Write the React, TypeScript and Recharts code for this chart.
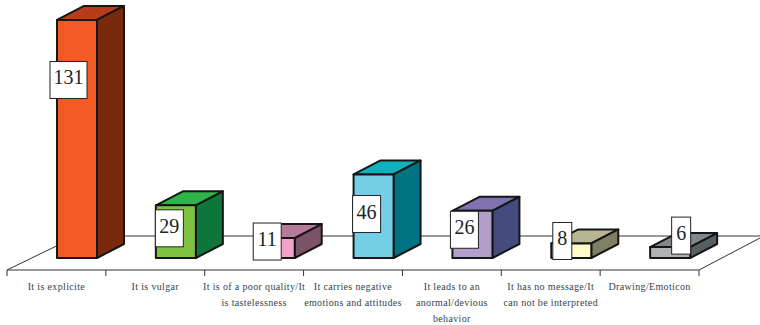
import { BarChart, Bar, XAxis, YAxis, LabelList, Customized } from 'recharts';

const categories = [
  'It is explicite',
  'It is vulgar',
  'It is of a poor quality/It\nis tastelessness',
  'It carries negative\nemotions and attitudes',
  'It leads to an\nanormal/devious\nbehavior',
  'It has no message/It\ncan not be interpreted',
  'Drawing/Emoticon',
];
const counts = [131, 29, 11, 46, 26, 8, 6];

const frontColors = ['#f15a22', '#7fc241', '#f3a3c9', '#74cfe6', '#b09fcb', '#fffbcc', '#b0b2b3'];
const topColors = ['#b83c1c', '#2fb34a', '#b67a9b', '#0fb0c0', '#8072b0', '#b8b692', '#80878b'];
const sideColors = ['#7a2a0c', '#0c763b', '#7c5268', '#007383', '#454a7f', '#7f7f63', '#565f62'];

// where each value box sits relative to its bar (centre x, top y)
const labelNudgeX = [-8.5, -6.5, -7.5, -7, -8, -9, 11];
const labelNudgeY = [60, 23, 3.5, 39.6, 19, -2.5, -11.5];

const data = categories.map((name, i) => ({ name, count: counts[i] }));

const WIDTH = 760;
const HEIGHT = 325;
const AXIS_LEFT = 7;
const AXIS_RIGHT = 699;
const AXIS_Y = 270;
const BAND = (AXIS_RIGHT - AXIS_LEFT) / categories.length;

// fake perspective: how far the back face is pushed from the front face
const DEPTH_X = 27;
const DEPTH_Y = 14;
const FLOOR_SHIFT = 21;
const EDGE = '#161616';

function CuboidBar(props: any) {
  const { x, y, width, height, index } = props;
  const l = x + FLOOR_SHIFT;
  const r = l + width;
  const b = y + height;
  const edge = { stroke: EDGE, strokeWidth: 2, strokeLinejoin: 'round' as const };
  return (
    <g>
      <polygon
        points={`${l},${y} ${r},${y} ${r + DEPTH_X},${y - DEPTH_Y} ${l + DEPTH_X},${y - DEPTH_Y}`}
        fill={topColors[index]}
        {...edge}
      />
      <polygon
        points={`${r},${y} ${r + DEPTH_X},${y - DEPTH_Y} ${r + DEPTH_X},${b - DEPTH_Y} ${r},${b}`}
        fill={sideColors[index]}
        {...edge}
      />
      <rect x={l} y={y} width={width} height={height} fill={frontColors[index]} {...edge} />
    </g>
  );
}

function ValueBox(props: any) {
  const { x, y, width, value, index } = props;
  const text = String(value);
  const w = 10 + text.length * 9;
  const h = 37;
  const cx = x + FLOOR_SHIFT + width / 2 + labelNudgeX[index];
  const cy = y + labelNudgeY[index];
  return (
    <g>
      <rect x={cx - w / 2} y={cy - h / 2} width={w} height={h} fill="#fff" stroke="#222" strokeWidth={1} />
      <text
        x={cx}
        y={cy + 4.5}
        textAnchor="middle"
        fontFamily="Liberation Serif"
        fontSize={20}
        fill="#1c2428"
      >
        {text}
      </text>
    </g>
  );
}

function CategoryTick(props: any) {
  const { x, y, payload, index } = props;
  const lines = String(payload.value).split('\n');
  return (
    <g>
      <line x1={x - BAND / 2} x2={x - BAND / 2} y1={AXIS_Y} y2={AXIS_Y + 6} stroke="#333" />
      {index === categories.length - 1 && (
        <line x1={x + BAND / 2} x2={x + BAND / 2} y1={AXIS_Y} y2={AXIS_Y + 6} stroke="#333" />
      )}
      <text
        x={x}
        y={y + 2}
        textAnchor="middle"
        fontFamily="Liberation Serif"
        fontSize={10}
        letterSpacing={0.35}
        fill="#33444c"
      >
        {lines.map((line, i) => (
          <tspan key={i} x={x} dy={i === 0 ? 10 : 16}>
            {line}
          </tspan>
        ))}
      </text>
    </g>
  );
}

// floor outline behind the bars
function Floor() {
  return (
    <g stroke="#333" strokeWidth={1} fill="none">
      <polyline points={`${AXIS_LEFT},${AXIS_Y} 77,236 ${WIDTH},236`} />
      <line x1={AXIS_RIGHT} y1={AXIS_Y} x2={WIDTH} y2={238} />
    </g>
  );
}

export default function App() {
  return (
    <div style={{ position: 'absolute', left: 0, top: 0, width: WIDTH, height: HEIGHT, background: '#fff' }}>
      <BarChart
        width={WIDTH}
        height={HEIGHT}
        data={data}
        margin={{ top: 0, right: WIDTH - AXIS_RIGHT, bottom: 0, left: AXIS_LEFT }}
        barSize={40}
      >
        <Customized component={Floor} />
        <XAxis
          dataKey="name"
          height={HEIGHT - AXIS_Y}
          interval={0}
          tickLine={false}
          axisLine={{ stroke: '#333' }}
          tick={CategoryTick}
        />
        <YAxis hide domain={[-6.6, 142]} allowDataOverflow />
        <Bar dataKey="count" isAnimationActive={false} shape={CuboidBar}>
          <LabelList dataKey="count" content={ValueBox} />
        </Bar>
      </BarChart>
    </div>
  );
}
